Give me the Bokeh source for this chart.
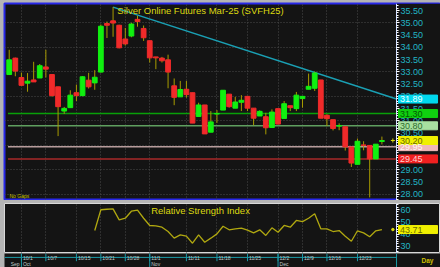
from bokeh.plotting import figure
from bokeh.layouts import column
from bokeh.models import (Range1d, LinearAxis, SingleIntervalTicker, FixedTicker,
                          NumeralTickFormatter, Label, Grid, ColumnDataSource)
from bokeh.core.properties import value
from bokeh.embed import file_html
from bokeh.resources import INLINE

# ---------------- data ----------------
opens = [32.89, 33.56, 32.77, 32.54, 32.67, 32.75, 33.20, 32.89, 32.39, 31.40,
         31.54, 32.15, 32.03, 32.66, 32.55, 32.99, 34.97, 35.08, 34.90, 34.34,
         34.46, 35.14, 34.77, 34.27, 33.61, 33.56, 33.49, 32.43, 31.98, 32.29,
         32.15, 31.18, 31.65, 30.54, 31.28, 31.44, 32.09, 31.52, 31.76, 32.00,
         31.52, 31.20, 31.17, 30.73, 31.50, 31.10, 31.62, 31.50, 31.91, 32.29,
         32.33, 32.67, 31.23, 31.05, 30.79, 30.76, 29.94, 29.23, 30.02, 30.00,
         29.45, 30.16]
highs = [33.90, 33.58, 32.97, 32.95, 33.41, 33.32, 33.90, 32.89, 32.39, 31.57,
         32.25, 32.48, 32.82, 32.96, 33.07, 34.93, 35.05, 35.64, 34.92, 34.79,
         35.00, 35.29, 34.89, 34.27, 33.61, 33.61, 33.70, 32.73, 32.63, 32.63,
         32.15, 31.74, 31.65, 31.40, 31.44, 32.25, 32.09, 31.98, 32.05, 32.00,
         31.52, 31.43, 31.33, 31.47, 31.50, 31.81, 31.62, 32.18, 32.00, 32.93,
         33.01, 32.67, 31.27, 31.05, 30.90, 30.76, 29.94, 30.28, 30.17, 30.00,
         30.05, 30.36]
lows = [32.87, 32.82, 32.43, 32.19, 32.59, 32.75, 32.77, 31.99, 30.38, 31.29,
        31.54, 31.81, 32.01, 32.32, 32.27, 32.97, 34.38, 34.43, 33.96, 34.07,
        34.41, 34.84, 34.26, 33.38, 33.11, 33.38, 32.33, 31.64, 31.98, 31.95,
        30.91, 31.18, 30.47, 30.54, 30.92, 31.44, 31.54, 31.52, 31.40, 31.40,
        30.82, 31.20, 30.45, 30.73, 30.87, 31.10, 31.40, 31.40, 31.54, 32.29,
        32.22, 31.11, 30.79, 30.61, 30.62, 29.79, 29.12, 29.23, 29.80, 27.88,
        29.45, 30.04]
closes = [33.49, 33.03, 32.45, 32.62, 32.59, 33.25, 33.11, 32.03, 31.58, 31.51,
          32.05, 32.03, 32.80, 32.39, 32.78, 34.86, 34.90, 34.99, 33.98, 34.14,
          34.95, 35.05, 34.39, 33.57, 33.57, 33.45, 32.99, 31.96, 32.28, 32.07,
          30.91, 31.65, 30.47, 30.96, 31.30, 32.25, 31.58, 31.77, 31.84, 31.52,
          31.11, 31.39, 30.72, 31.36, 30.87, 31.70, 31.54, 32.05, 32.00, 32.41,
          32.95, 31.11, 31.09, 30.69, 30.81, 29.94, 29.28, 30.17, 30.00, 29.45,
          30.05, 30.20]

rsi_first_index = 14
rsi_values = [42.9, 59.8, 60.2, 60.5, 51.6, 52.9, 58.6, 59.5, 52.9, 47.0,
              46.7, 45.6, 42.1, 36.7, 39.4, 38.3, 32.6, 39.4, 33.4, 36.7,
              40.2, 46.4, 43.5, 44.3, 44.8, 43.2, 41.0, 43.5, 38.9, 45.1,
              41.5, 47.0, 45.6, 51.1, 50.2, 52.9, 56.5, 44.3, 44.3, 42.1,
              42.9, 38.3, 34.2, 42.7, 41.0, 37.8, 42.7, 43.71]

tick_idx = [2, 6, 11, 15, 19, 23, 29, 34, 39, 44, 48, 52, 57]
tick_labels = ["10/1", "10/7", "10/15", "10/21", "10/28", "11/1", "11/11",
               "11/18", "11/25", "12/2", "12/9", "12/16", "12/23"]
month_idx = [0, 2, 23, 44]
month_labels = ["Sep", "Oct", "Nov", "Dec"]

level_prices = [31.30, 30.80, 29.95, 29.45]
level_colors = ["#08a008", "#5f9f5f", "#b89c9c", "#a82828"]

trend_start_index = 17
trend_prices = [35.64, 31.89]

box_prices = [31.89, 31.30, 30.80, 29.45, 29.95, 30.20]
box_bg = ["#00d8ee", "#10d010", "#a8e0a0", "#f02020", "#f0b8b8", "#f0f000"]
box_fg = ["#f0ffff", "#005a00", "#2e6e2e", "#ffd0d0", "#fff4f4", "#6a6a00"]

title_text = "Silver Online Futures Mar-25 (SVFH25)"
rsi_title = "Relative Strength Index"

# ---------------- style / layout ----------------
BG = "#141414"
EDGE = "#b4b4b4"
TEAL = "#22b4c4"
DTEAL = "#1c9aa6"
YEL = "#dcd810"
WICK = "#a89c00"
GREEN = "#10f010"
RED = "#f02a2a"
FONT = "Liberation Sans"

PX_PER_BAR = 6.11           # horizontal pixels per bar
FRAME_W = 436               # frame spans x = 4 .. 440
X_START = -0.77
X_END = 63.39               # right edge of the price area (axis line)
X_FULL = X_START + FRAME_W / PX_PER_BAR
Y_START, Y_END = 27.754, 35.787
R_START, R_END = 24.23, 64.88

n = len(opens)
idx = list(range(n))
body_top = [max(o, c) for o, c in zip(opens, closes)]
body_bot = [min(o, c) for o, c in zip(opens, closes)]
cols = [GREEN if c >= o else RED for o, c in zip(opens, closes)]
src = ColumnDataSource(dict(x=idx, h=highs, l=lows, top=body_top, bot=body_bot, col=cols))

xr = Range1d(X_START, X_FULL)
box_x = X_END + 21.5 / PX_PER_BAR


def price_axis(interval, minor, fmt):
    return LinearAxis(ticker=SingleIntervalTicker(interval=interval, num_minor_ticks=minor),
                      formatter=NumeralTickFormatter(format=fmt), fixed_location=X_END,
                      axis_line_color="#c8d8ff", major_tick_line_color="#ffffff",
                      minor_tick_line_color="#ffffff", major_tick_out=3, major_tick_in=0,
                      minor_tick_out=2, minor_tick_in=0, major_label_standoff=1,
                      major_label_text_color=TEAL, major_label_text_font_size="9px",
                      major_label_text_font=FONT)


# ---------------- main price panel ----------------
p = figure(width=440, height=200, output_backend="svg", toolbar_location=None,
           x_range=xr, y_range=Range1d(Y_START, Y_END),
           min_border_left=4, min_border_right=0, min_border_top=3, min_border_bottom=0,
           background_fill_color=BG, border_fill_color=EDGE,
           x_axis_location=None, y_axis_location=None)
p.grid.visible = False
p.outline_line_color = "#2828e8"
p.outline_line_width = 2

p.add_layout(Grid(dimension=0, ticker=FixedTicker(ticks=tick_idx),
                  grid_line_color="#4a4a4a", grid_line_dash="1 2"))
p.add_layout(Grid(dimension=1, ticker=SingleIntervalTicker(interval=1.0),
                  grid_line_color="#4a4a4a", grid_line_dash="1 2"))
# plain background behind the price scale
p.quad(left=[X_END], right=[X_FULL], bottom=[Y_START], top=[Y_END],
       fill_color=BG, line_alpha=0)

p.add_layout(price_axis(0.5, 5, "0.00"), "right")

p.segment(x0=[X_START + 3.5 / PX_PER_BAR] * len(level_prices), y0=level_prices,
          x1=[X_END] * len(level_prices), y1=level_prices,
          line_color=level_colors, line_width=1.5)

p.line(x=[trend_start_index, X_END], y=trend_prices, line_color="#1aa0b4", line_width=1.5)

p.segment(x0="x", y0="h", x1="x", y1="l", source=src, line_color=WICK, line_width=1)
p.vbar(x="x", width=0.78, top="top", bottom="bot", source=src,
       fill_color="col", line_color="col", line_width=1)

p.scatter(x=[X_END - 0.6], y=[closes[-1]], marker="cross", size=4,
          line_color=YEL, line_width=1)

p.add_layout(Label(x=(X_START + X_END) / 2, y=Y_END, y_offset=-1, text=title_text,
                   text_align="center", text_baseline="top", text_color=YEL,
                   text_font=FONT, text_font_size="9.5px"))
p.add_layout(Label(x=X_START, x_offset=5, y=Y_START, y_offset=2, text="No Gaps",
                   text_align="left", text_baseline="bottom", text_color="#c8c000",
                   text_font=FONT, text_font_size="5px"))

box_src = ColumnDataSource(dict(x=[box_x] * len(box_prices), xt=[X_END] * len(box_prices),
                                y=box_prices, bg=box_bg, fg=box_fg,
                                t=[f"{v:.2f}" for v in box_prices]))
p.rect(x="x", y="y", width=39, height=8, width_units="screen", height_units="screen",
       source=box_src, fill_color="bg", line_color="bg", level="overlay")
p.text(x="xt", y="y", text="t", source=box_src, x_offset=3.5, text_align="left",
       text_baseline="middle", text_color="fg", text_font=value(FONT),
       text_font_size="9px", level="overlay")

# ---------------- RSI panel ----------------
r = figure(width=440, height=53, output_backend="svg", toolbar_location=None,
           x_range=xr, y_range=Range1d(R_START, R_END),
           min_border_left=4, min_border_right=0, min_border_top=3, min_border_bottom=0,
           background_fill_color=BG, border_fill_color=EDGE,
           x_axis_location=None, y_axis_location=None)
r.grid.visible = False
r.outline_line_color = "#d8d8d8"
r.outline_line_width = 1
r.add_layout(Grid(dimension=0, ticker=FixedTicker(ticks=tick_idx),
                  grid_line_color="#4a4a4a", grid_line_dash="1 2"))
r.add_layout(price_axis(10, 5, "0"), "right")

rsi_x = list(range(rsi_first_index, rsi_first_index + len(rsi_values)))
r.line(x=rsi_x, y=rsi_values, line_color="#b0a810", line_width=1.3)
r.scatter(x=[X_END - 0.6], y=[rsi_values[-1]], marker="circle", size=2.5,
          fill_color=YEL, line_color=YEL)

r.add_layout(Label(x=(X_START + X_END) / 2, y=R_END, y_offset=-1, text=rsi_title,
                   text_align="center", text_baseline="top", text_color=YEL,
                   text_font=FONT, text_font_size="9.5px"))

rsi_box = ColumnDataSource(dict(x=[box_x], xt=[X_END], y=[rsi_values[-1]],
                                t=[f"{rsi_values[-1]:.2f}"]))
r.rect(x="x", y="y", width=39, height=8, width_units="screen", height_units="screen",
       source=rsi_box, fill_color="#f0f000", line_color="#f0f000", level="overlay")
r.text(x="xt", y="y", text="t", source=rsi_box, x_offset=3.5, text_align="left",
       text_baseline="middle", text_color="#6a6a00", text_font=value(FONT),
       text_font_size="9px", level="overlay")

# ---------------- date strip ----------------
d = figure(width=440, height=14, output_backend="svg", toolbar_location=None,
           x_range=xr, y_range=Range1d(0, 1),
           min_border_left=4, min_border_right=0, min_border_top=0, min_border_bottom=0,
           background_fill_color=BG, border_fill_color=EDGE,
           x_axis_location=None, y_axis_location=None)
d.grid.visible = False
d.outline_line_color = None

d.segment(x0=[X_START], y0=[0.72], x1=[X_END], y1=[0.72], line_color=DTEAL, line_width=1)
d.segment(x0=[X_END], y0=[0], x1=[X_END], y1=[1], line_color=DTEAL, line_width=1)
d.segment(x0=tick_idx, y0=[0.45] * len(tick_idx), x1=tick_idx, y1=[1] * len(tick_idx),
          line_color=DTEAL, line_width=1)
m_ticks = [m for m in month_idx if m > 0]
d.segment(x0=m_ticks, y0=[0] * len(m_ticks), x1=m_ticks, y1=[1] * len(m_ticks),
          line_color=DTEAL, line_width=1)
d.text(x=tick_idx, y=[1] * len(tick_idx), text=tick_labels, x_offset=1.5, y_offset=1,
       text_align="left", text_baseline="top", text_color="#c0cccc",
       text_font=value(FONT), text_font_size="5px")
d.text(x=month_idx, y=[0] * len(month_idx), text=month_labels, x_offset=1.5, y_offset=-1,
       text_align="left", text_baseline="bottom", text_color="#c0cccc",
       text_font=value(FONT), text_font_size="5px")
d.text(x=[X_END], y=[0.5], text=["Day"], x_offset=25, text_align="left",
       text_baseline="middle", text_color="#d0c000", text_font=value(FONT),
       text_font_size="6.5px", text_font_style="bold")

layout = column(p, r, d, spacing=0, styles={"background-color": EDGE})

open("out.html", "w").write(file_html(layout, INLINE))
